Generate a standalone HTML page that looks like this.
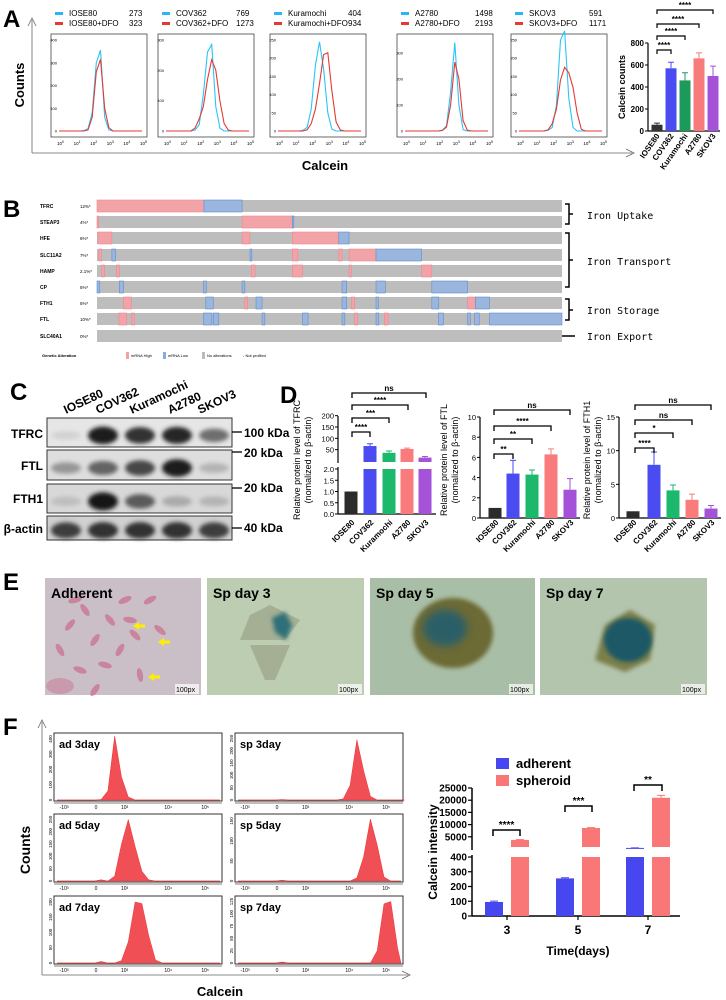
<!DOCTYPE html>
<html><head><meta charset="utf-8">
<style>
html,body{margin:0;padding:0;background:#fff;}
svg{display:block;font-family:"Liberation Sans",Arial,sans-serif;}
.b{font-weight:bold;}
</style></head>
<body>
<svg id="fig" width="726" height="1000" viewBox="0 0 726 1000" xmlns="http://www.w3.org/2000/svg">
<defs>
<filter id="blur2" x="-50%" y="-50%" width="200%" height="200%"><feGaussianBlur stdDeviation="2.2"/></filter>
<filter id="blur4" x="-50%" y="-50%" width="200%" height="200%"><feGaussianBlur stdDeviation="4"/></filter>
</defs>
<text x="3" y="27" font-size="24" class="b">A</text>
<text x="3" y="217" font-size="24" class="b">B</text>
<text x="10" y="400" font-size="24" class="b">C</text>
<text x="280" y="403" font-size="24" class="b">D</text>
<text x="3" y="590" font-size="24" class="b">E</text>
<text x="3" y="735" font-size="24" class="b">F</text>

<g stroke="#666" fill="none" stroke-width="0.8">
<path d="M32 153 L32 20 M28 26 L32 18 L36 26"/>
<path d="M32 153 L632 153 M626 149 L634 153 L626 157"/>
</g>
<text x="24" y="85" font-size="13" class="b" text-anchor="middle" transform="rotate(-90 24 85)">Counts</text>
<text x="325" y="170" font-size="13" class="b" text-anchor="middle">Calcein</text>
<g id="panelA"></g>
<g id="barA"></g>

<g id="panelB"></g>
<g stroke="#000" fill="none" stroke-width="1.5">
<path d="M565 204 L569 204 L569 224 L565 224 M569 214 L573 214"/>
<path d="M565 233 L569 233 L569 287 L565 287 M569 260 L573 260"/>
<path d="M565 299 L569 299 L569 320 L565 320 M569 310 L573 310"/>
<path d="M562 336 L575 336"/>
</g>
<g font-family="'DejaVu Sans Mono',monospace" font-size="10">
<text x="587" y="219">Iron Uptake</text>
<text x="587" y="265">Iron Transport</text>
<text x="587" y="314">Iron Storage</text>
<text x="587" y="340">Iron Export</text>
</g>
<g font-size="4">
<text x="42" y="357" class="b">Genetic Alteration</text>
<rect x="126" y="352" width="3" height="7" fill="#f4a0a0"/><text x="131" y="357">mRNA High</text>
<rect x="163" y="352" width="3" height="7" fill="#88aadd"/><text x="168" y="357">mRNA Low</text>
<rect x="202" y="352" width="3" height="7" fill="#bbb"/><text x="207" y="357">No alterations</text>
<text x="243" y="357">- Not profiled</text>
</g>

<g id="panelC"></g>
<g font-size="12" class="b">
<text transform="translate(66 414) rotate(-25)">IOSE80</text>
<text transform="translate(98 414) rotate(-25)">COV362</text>
<text transform="translate(132 414) rotate(-25)">Kuramochi</text>
<text transform="translate(170 414) rotate(-25)">A2780</text>
<text transform="translate(200 414) rotate(-25)">SKOV3</text>
<text x="43" y="438" text-anchor="end">TFRC</text>
<text x="43" y="470" text-anchor="end">FTL</text>
<text x="43" y="503" text-anchor="end">FTH1</text>
<text x="43" y="533" text-anchor="end">β-actin</text>
<text x="244" y="437">100 kDa</text>
<text x="244" y="457">20 kDa</text>
<text x="244" y="492">20 kDa</text>
<text x="244" y="532">40 kDa</text>
</g>
<g stroke="#000" stroke-width="1.3">
<line x1="232" y1="432" x2="242" y2="432"/><line x1="232" y1="452" x2="242" y2="452"/>
<line x1="232" y1="488" x2="242" y2="488"/><line x1="232" y1="528" x2="242" y2="528"/>
</g>

<g id="panelD"></g>
<g id="panelE"></g>

<g stroke="#666" fill="none" stroke-width="0.8">
<path d="M42 975 L42 722 M38 728 L42 720 L46 728"/>
<path d="M42 975 L408 975 M402 971 L410 975 L402 979"/>
</g>
<text x="30" y="850" font-size="14" class="b" text-anchor="middle" transform="rotate(-90 30 850)">Counts</text>
<text x="220" y="996" font-size="13" class="b" text-anchor="middle">Calcein</text>
<g id="panelF"></g>
<g id="barF"></g>
</svg>
<script>
const NS='http://www.w3.org/2000/svg';
function mk(parent,tag,attrs,name,txt){
  const e=document.createElementNS(NS,tag);
  for(const k in attrs)e.setAttribute(k,attrs[k]);
  
  
  if(txt!==undefined)e.textContent=txt;
  parent.appendChild(e);return e;
}
/* ===== Panel A data ===== */
const aLines=['IOSE80','COV362','Kuramochi','A2780','SKOV3'];
const aCtrlMFI=[273,769,404,1498,591];
const aDfoMFI=[323,1273,934,2193,1171];
const aYmax=[400,300,250,350,250];
const aYticks=[[0,100,200,300,400],[0,100,200,300],[0,50,100,150,200,250],[0,100,200,300],[0,50,100,150,200,250]];
const aBlue=[
[0,0,0,0,0,0,2,10,80,300,355,60,5,0,0,0,0,0,0,0,0],
[0,0,0,0,0,0,0,3,20,120,260,285,80,10,0,0,0,0,0,0,0],
[0,0,0,0,0,0,2,10,60,180,245,170,50,5,0,0,0,0,0,0,0],
[0,0,0,0,0,0,0,0,0,3,20,150,340,100,5,0,0,0,0,0,0],
[0,0,0,0,0,0,0,2,10,70,250,275,90,10,0,0,0,0,0,0,0]];
const aRed=[
[0,0,0,0,0,0,0,5,60,260,315,100,15,0,0,0,0,0,0,0,0],
[0,0,0,0,0,0,0,10,40,80,170,235,200,100,25,3,0,0,0,0,0],
[0,0,0,0,0,0,0,3,20,60,130,210,215,110,25,3,0,0,0,0,0],
[0,0,0,0,0,0,0,0,0,2,15,100,265,200,40,3,0,0,0,0,0],
[0,0,0,0,0,0,0,3,20,60,140,175,160,120,50,5,0,0,0,0,0]];
const aBoxLeft=[51,158,270,397,511];
const gA=document.getElementById('panelA');
aLines.forEach((n,i)=>{
  const L=aBoxLeft[i],W=96,T=34,B=137;
  mk(gA,'rect',{x:L+4,y:12,width:8,height:3,fill:'#29b6f6'},'legend-ctrl-swatch');
  mk(gA,'rect',{x:L+4,y:22,width:8,height:3,fill:'#e53935'},'legend-dfo-swatch');
  mk(gA,'text',{x:L+18,y:16,'font-size':8},'legend-ctrl-label',n);
  mk(gA,'text',{x:L+18,y:26,'font-size':8},'legend-dfo-label',n+'+DFO');
  mk(gA,'text',{x:L+78,y:16,'font-size':8},'legend-ctrl-mfi',aCtrlMFI[i]);
  mk(gA,'text',{x:L+78,y:26,'font-size':8},'legend-dfo-mfi',aDfoMFI[i]);
  mk(gA,'rect',{x:L,y:T,width:W,height:B-T,fill:'none',stroke:'#444','stroke-width':0.8},'histogram-frame-'+n);
  const px0=L+8,px1=L+W-5,py0=B-6,py1=T+6;
  const xs=d=>px0+(px1-px0)*d/5;
  const ys=v=>py0-(py0-py1)*v/aYmax[i];
  for(let d=0;d<=5;d++){
    const t=mk(gA,'text',{x:xs(d)-2,y:B+8,'font-size':4.5},'x-tick-'+d,'10');
    mk(t,'tspan',{dy:-2,'font-size':3.5},'tick-exp',d);
  }
  aYticks[i].forEach(v=>mk(gA,'text',{x:L+6,y:ys(v)+1.5,'font-size':4,'text-anchor':'end'},'y-tick',v));
  const pts=arr=>arr.map((v,k)=>xs(k*0.25).toFixed(1)+','+ys(v).toFixed(1)).join(' ');
  mk(gA,'polyline',{points:pts(aBlue[i]),fill:'none',stroke:'#29c5f6','stroke-width':1.1},'histogram-ctrl-'+n);
  mk(gA,'polyline',{points:pts(aRed[i]),fill:'none',stroke:'#e53935','stroke-width':1.1},'histogram-dfo-'+n);
});
const aBarVals=[57,570,460,660,500];
const aBarErr=[15,55,70,50,90];
const aBarTicks=[0,200,400,600,800];
const aBarColors=['#333','#4b4bf2','#1b9a5c','#f77b7b','#a453d8'];
const gAB=document.getElementById('barA');
(function(){
  const x0=648,y0=131,yT=43,ymax=800;
  const ys=v=>y0-(y0-yT)*v/ymax;
  mk(gAB,'line',{x1:x0,y1:yT,x2:x0,y2:y0,stroke:'#000','stroke-width':1.2},'a-bar-y-axis');
  mk(gAB,'line',{x1:x0,y1:y0,x2:720,y2:y0,stroke:'#000','stroke-width':1.2},'a-bar-x-axis');
  aBarTicks.forEach(v=>{
    mk(gAB,'line',{x1:x0-3,y1:ys(v),x2:x0,y2:ys(v),stroke:'#000'},'a-bar-ytick');
    mk(gAB,'text',{x:x0-4,y:ys(v)+3,'font-size':8,'text-anchor':'end',class:'b'},'a-bar-ytick-label',v);
  });
  mk(gAB,'text',{x:625,y:87,'font-size':9,'text-anchor':'middle',class:'b',transform:'rotate(-90 625 87)'},'a-bar-y-title','Calcein counts');
  aLines.forEach((n,i)=>{
    const cx=657+i*14;
    mk(gAB,'rect',{x:cx-5.5,y:ys(aBarVals[i]),width:11,height:y0-ys(aBarVals[i]),fill:aBarColors[i]},'a-bar-'+n);
    mk(gAB,'path',{d:`M${cx} ${ys(aBarVals[i])} V${ys(aBarVals[i]+aBarErr[i])} M${cx-3} ${ys(aBarVals[i]+aBarErr[i])} h6`,stroke:aBarColors[i],'stroke-width':1,fill:'none'},'a-error-bar');
    mk(gAB,'text',{'font-size':8,class:'b','text-anchor':'end',transform:`translate(${cx+3} ${y0+5}) rotate(-55)`},'a-bar-xlabel',n);
  });
  const br=[[671,50,'****'],[685,36,'****'],[699,24,'****'],[713,10,'****']];
  br.forEach(b=>{
    mk(gAB,'path',{d:`M657 ${b[1]+4} V${b[1]} H${b[0]} V${b[1]+4}`,fill:'none',stroke:'#000','stroke-width':1.2},'a-sig-bracket');
    mk(gAB,'text',{x:(657+b[0])/2,y:b[1]-2,'font-size':8,'text-anchor':'middle',class:'b'},'a-sig-label',b[2]);
  });
})();
/* ===== Panel B ===== */
const bGenes=['TFRC','STEAP3','HFE','SLC11A2','HAMP','CP','FTH1','FTL','SLC40A1'];
const bPct=['12%*','4%*','6%*','7%*','2.1%*','5%*','5%*','10%*','0%*'];
const bSegs=[
[[0,230,'h'],[230,312,'l']],
[[0,3,'h'],[312,420,'h'],[420,423,'l']],
[[2,32,'h'],[312,329,'h'],[420,520,'h'],[520,542,'l']],
[[4,10,'h'],[32,40,'l'],[329,333,'l'],[420,432,'h'],[520,527,'h'],[542,600,'h'],[600,698,'l']],
[[10,16,'h'],[42,48,'h'],[332,340,'h'],[420,442,'h'],[542,547,'h'],[698,720,'h']],
[[0,6,'l'],[48,57,'l'],[229,235,'l'],[312,318,'l'],[527,537,'l'],[600,620,'l'],[720,797,'l']],
[[57,74,'h'],[234,250,'l'],[318,324,'h'],[342,355,'l'],[527,537,'l'],[547,554,'h'],[600,605,'l'],[720,735,'l'],[797,814,'h'],[814,844,'l']],
[[47,64,'h'],[74,80,'h'],[229,247,'l'],[250,262,'l'],[355,361,'l'],[442,454,'l'],[527,533,'l'],[554,560,'h'],[600,606,'l'],[618,626,'h'],[734,745,'l'],[797,803,'l'],[812,822,'l'],[844,1000,'l']],
[]];
const bRowY=[206,222,238,255,271,287,303,319,336];
const gB=document.getElementById('panelB');
bGenes.forEach((g,i)=>{
  const y=bRowY[i],x0=97,x1=562,sx=v=>x0+(x1-x0)*v/1000;
  mk(gB,'text',{x:40,y:y+2,'font-size':5,class:'b'},'gene-label-'+g,g);
  mk(gB,'text',{x:80,y:y+2,'font-size':4.5},'gene-pct-'+g,bPct[i]);
  mk(gB,'rect',{x:x0,y:y-6,width:x1-x0,height:12,fill:'#bdbdbd'},'oncoprint-row-'+g);
  bSegs[i].forEach(s=>{
    mk(gB,'rect',{x:sx(s[0]),y:y-6,width:Math.max(sx(s[1])-sx(s[0]),1.5),height:12,fill:s[2]==='h'?'#f2a3a8':'#9bb6de',stroke:s[2]==='h'?'#ee8890':'#5d8fd0','stroke-width':0.6},'alteration-'+(s[2]==='h'?'mrna-high':'mrna-low'));
  });
});
/* ===== Panel C ===== */
const blotRows=['TFRC','FTL','FTH1','beta-actin'];
const blotTop=[418,450,484,516];
const blotH=[29,30,29,24];
const blotBg=['#e6e6e6','#dedede','#d8d8d8','#d0d0d0'];
const blotInt=[[0.05,0.95,0.85,0.9,0.55],[0.35,0.6,0.75,0.95,0.2],[0.15,1.0,0.65,0.25,0.2],[0.8,0.85,0.85,0.85,0.8]];
const gC=document.getElementById('panelC');
blotRows.forEach((r,i)=>{
  mk(gC,'rect',{x:47,y:blotTop[i],width:185,height:blotH[i],fill:blotBg[i],stroke:'#333','stroke-width':1},'blot-'+r);
  blotInt[i].forEach((v,k)=>{
    const cx=66+k*37,cy=blotTop[i]+blotH[i]*0.6;
    const c=Math.round(220-200*v);
    mk(gC,'ellipse',{cx:cx,cy:cy,rx:15,ry:4+5*v,fill:`rgb(${c},${c},${c})`,filter:'url(#blur2)'},'band-'+r+'-lane'+k);
  });
});
/* ===== Panel D ===== */
const dCats=['IOSE80','COV362','Kuramochi','A2780','SKOV3'];
const dTFRC=[1,66,36,53,15];
const dTFRCerr=[0,10,8,4,5];
const dFTL=[1,4.4,4.3,6.3,2.8];
const dFTLerr=[0,1.3,0.45,0.55,1.1];
const dFTH1=[1,7.9,4.1,2.7,1.4];
const dFTH1err=[0,1.9,0.8,0.85,0.45];
const dFTLticks=[0,2,4,6,8,10];
const dFTH1ticks=[0,5,10,15];
const dTFRClow=['0.0','0.5','1.0','1.5','2.0'];
const dTFRChigh=[50,100,150,200];
const gD=document.getElementById('panelD');
function dBrk(arr){arr.forEach(b=>{
  mk(gD,'path',{d:`M${b[0]} ${b[2]+5} V${b[2]} H${b[1]} V${b[2]+5}`,fill:'none',stroke:'#000','stroke-width':1.3},'d-sig-bracket');
  mk(gD,'text',{x:(b[0]+b[1])/2,y:b[2]-2,'font-size':8,'text-anchor':'middle',class:'b'},'d-sig-label',b[3]);
});}
function dTitles(x,gene){
  mk(gD,'text',{'font-size':9,'text-anchor':'middle',transform:`translate(${x} 460) rotate(-90)`},'d-y-title-'+gene,'Relative protein level of '+gene);
  mk(gD,'text',{'font-size':9,'text-anchor':'middle',transform:`translate(${x+11} 460) rotate(-90)`},'d-y-subtitle-'+gene,'(nomalized to β-actin)');
}
function dXlabels(bx){dCats.forEach((c,i)=>{
  mk(gD,'text',{'font-size':8,class:'b','text-anchor':'end',transform:`translate(${bx[i]+4} ${523}) rotate(-45)`},'d-xlabel',c);
});}
const dColors=['#2b2b2b','#4b4bf2','#1cb86b','#f97b7b','#a452d8'];
(function(){
  const ax=338,yb=514;
  const yL=v=>yb-v*22.5, yU=v=>461-v*0.2267;
  mk(gD,'path',{d:`M${ax} ${yb} V467 M${ax} 463 V416`,stroke:'#000','stroke-width':1.2,fill:'none'},'d1-y-axis');
  mk(gD,'line',{x1:ax,y1:yb,x2:436,y2:yb,stroke:'#000','stroke-width':1.2},'d1-x-axis');
  dTFRClow.forEach(t=>{const y=yL(+t);
    mk(gD,'line',{x1:ax-3,y1:y,x2:ax,y2:y,stroke:'#000'},'d1-ytick');
    mk(gD,'text',{x:ax-4,y:y+3,'font-size':7.5,'text-anchor':'end'},'d1-ytick-label',t);});
  dTFRChigh.forEach(t=>{const y=yU(t);
    mk(gD,'line',{x1:ax-3,y1:y,x2:ax,y2:y,stroke:'#000'},'d1-ytick');
    mk(gD,'text',{x:ax-4,y:y+3,'font-size':7.5,'text-anchor':'end'},'d1-ytick-label',t);});
  const bx=[351,370,389,407,425];
  dTFRC.forEach((v,i)=>{
    mk(gD,'rect',{x:bx[i]-6.5,y:v>2?469:yL(v),width:13,height:yb-(v>2?469:yL(v)),fill:dColors[i]},'d1-bar-'+dCats[i]);
    if(v>2){
      mk(gD,'rect',{x:bx[i]-6.5,y:yU(v),width:13,height:462-yU(v),fill:dColors[i]},'d1-bar-upper-'+dCats[i]);
      mk(gD,'path',{d:`M${bx[i]} ${yU(v)} V${yU(v+dTFRCerr[i])} M${bx[i]-3} ${yU(v+dTFRCerr[i])} h6`,stroke:dColors[i],fill:'none'},'d1-error-bar');
    }
  });
  dTitles(300,'TFRC');dXlabels(bx);
  dBrk([[352,426,393,'ns'],[352,408,405,'****'],[352,389,418,'***'],[352,370,432,'****']]);
})();
function dChart(ax,ticks,ymax,vals,errs,bx,gene,tx,br){
  const yb=518,yt=417,ys=v=>yb-(yb-yt)*v/ymax;
  mk(gD,'line',{x1:ax,y1:yb,x2:ax,y2:yt,stroke:'#000','stroke-width':1.2},'d-y-axis-'+gene);
  mk(gD,'line',{x1:ax,y1:yb,x2:bx[4]+10,y2:yb,stroke:'#000','stroke-width':1.2},'d-x-axis-'+gene);
  ticks.forEach(t=>{
    mk(gD,'line',{x1:ax-3,y1:ys(t),x2:ax,y2:ys(t),stroke:'#000'},'d-ytick');
    mk(gD,'text',{x:ax-4,y:ys(t)+3,'font-size':7.5,'text-anchor':'end'},'d-ytick-label',t);
  });
  vals.forEach((v,i)=>{
    mk(gD,'rect',{x:bx[i]-6.5,y:ys(v),width:13,height:yb-ys(v),fill:dColors[i]},'d-bar-'+gene+'-'+dCats[i]);
    if(errs[i]>0)mk(gD,'path',{d:`M${bx[i]} ${ys(v)} V${ys(v+errs[i])} M${bx[i]-3} ${ys(v+errs[i])} h6`,stroke:dColors[i],fill:'none'},'d-error-bar');
  });
  dTitles(tx,gene);dXlabels(bx);dBrk(br);
}
dChart(480,dFTLticks,10,dFTL,dFTLerr,[495,513,532,551,570],'FTL',447,
  [[494,570,410,'ns'],[494,551,426,'****'],[494,532,439,'**'],[494,513,454,'**']]);
dChart(619,dFTH1ticks,15,dFTH1,dFTH1err,[633,654,673,692,711],'FTH1',590,
  [[635,711,405,'ns'],[635,692,420,'ns'],[635,673,433,'*'],[635,654,448,'****']]);
/* ===== Panel E ===== */
const gE=document.getElementById('panelE');
const eImgs=[['Adherent',45,201,'#cbbfc7'],['Sp day 3',207,364,'#bccdb2'],['Sp day 5',370,535,'#a9bea6'],['Sp day 7',540,707,'#b3c5ad']];
eImgs.forEach((m,i)=>{
  mk(gE,'rect',{x:m[1],y:578,width:m[2]-m[1],height:117,fill:m[3]},'micrograph-'+i);
});
const cellPos=[[70,625],[85,610],[95,640],[110,620],[120,650],[105,665],[80,670],[135,635],[150,600],[125,600],[60,650],[140,675],[95,690],[160,630],[75,600],[130,620]];
cellPos.forEach(p=>mk(gE,'ellipse',{cx:p[0],cy:p[1],rx:7,ry:3,fill:'#c9708f',opacity:0.75,transform:`rotate(${(p[0]*7)%180} ${p[0]} ${p[1]})`},'adherent-cell'));
mk(gE,'ellipse',{cx:60,cy:686,rx:14,ry:8,fill:'#c78aa0',opacity:0.7},'adherent-cell-cluster');
[[133,626],[158,642],[148,677]].forEach(p=>mk(gE,'path',{d:`M${p[0]} ${p[1]} l6 -4 v2.5 h6 v3 h-6 v2.5z`,fill:'#ffee00'},'yellow-arrow'));
mk(gE,'path',{d:'M240 640 L285 640 L300 620 L270 605 L250 615 Z M250 645 L290 645 L275 680 L265 680Z',fill:'#9ea88c',opacity:0.8},'spheroid-day3');
mk(gE,'path',{d:'M272 618 L285 612 L292 625 L286 640 L275 632Z',fill:'#2f6f78',filter:'url(#blur2)'},'iron-stain-day3');
mk(gE,'ellipse',{cx:453,cy:633,rx:40,ry:35,fill:'#6c6a36',filter:'url(#blur2)'},'spheroid-day5');
mk(gE,'ellipse',{cx:445,cy:628,rx:22,ry:18,fill:'#2b5f67',filter:'url(#blur4)'},'iron-stain-day5');
mk(gE,'path',{d:'M595 660 L605 625 L630 610 L655 625 L650 660 L625 672Z',fill:'#7c7f4a',filter:'url(#blur2)'},'spheroid-day7');
mk(gE,'ellipse',{cx:628,cy:640,rx:24,ry:22,fill:'#1d5866',filter:'url(#blur2)'},'iron-stain-day7');
eImgs.forEach((m,i)=>{
  mk(gE,'text',{x:m[1]+6,y:598,'font-size':14,class:'b'},'micrograph-label',m[0]);
  mk(gE,'rect',{x:m[2]-26,y:684,width:24,height:10,fill:'#fff',opacity:0.7},'scale-bar-bg');
  mk(gE,'text',{x:m[2]-25,y:692,'font-size':7},'scale-bar-label','100px');
});
/* ===== Panel F ===== */
const fNames=['ad 3day','sp 3day','ad 5day','sp 5day','ad 7day','sp 7day'];
const fYticks=[[0,100,200,300,400],[0,50,100,150,200,250],[0,50,100,150,200,250],[0,50,100,150],[0,50,100,150,200],[0,25,50,75,100,125]];
const fYmax=[420,260,260,160,210,130];
const fCounts=[
[0,0,0,0,0,0,3,60,420,150,20,0,0,0,0,0,0,0,0,0,0,0,0,0],
[0,0,0,0,0,0,2,0,0,0,0,0,0,0,0,5,60,245,120,15,0,0,0,0,0],
[0,0,0,0,0,0,5,0,20,150,250,140,40,5,0,0,0,0,0,0,0,0,0,0],
[0,0,0,0,0,0,2,0,0,0,0,0,0,0,0,0,0,8,60,155,90,10,0,0],
[0,0,0,0,0,0,5,0,0,8,70,200,195,90,10,0,0,0,0,0,0,0,0,0],
[0,0,0,0,0,0,2,0,0,0,0,0,0,0,0,0,0,0,0,0,25,120,125,30]];
const fXtickLab=['-10³','0','10³','10⁴','10⁵'];
const fXtickPos=[0.06,0.25,0.42,0.68,0.9];
const gF=document.getElementById('panelF');
const fRowTop=[733,814,896],fColLeft=[54,235];
fNames.forEach((n,i)=>{
  const L=fColLeft[i%2],T=fRowTop[Math.floor(i/2)],W=168,H=68;
  mk(gF,'rect',{x:L,y:T,width:W,height:H,fill:'none',stroke:'#333','stroke-width':1},'f-hist-frame-'+n);
  const x0=L+3,x1=L+W-2,yb=T+H-1;
  const xs=k=>x0+(x1-x0)*(k+0.5)/24, ys=v=>yb-(H-4)*v/fYmax[i];
  let d=`M${x0} ${yb}`;
  fCounts[i].forEach((v,k)=>{d+=` L${xs(k).toFixed(1)} ${ys(v).toFixed(1)}`;});
  d+=` L${x1} ${yb} Z`;
  mk(gF,'path',{d:d,fill:'#f04f55',stroke:'#e33','stroke-width':0.5},'f-histogram-'+n);
  mk(gF,'text',{x:L+5,y:T+15,'font-size':11,class:'b'},'f-hist-label',n);
  fXtickLab.forEach((t,k)=>mk(gF,'text',{x:L+W*fXtickPos[k],y:T+H+8,'font-size':5,'text-anchor':'middle'},'f-xtick',t));
  mk(gF,'line',{x1:L,y1:T+H+2,x2:L+W,y2:T+H+2,stroke:'#000','stroke-width':0.6},'f-x-axis');
  fYticks[i].forEach(v=>mk(gF,'text',{'font-size':4.5,'text-anchor':'middle',transform:`translate(${L-2} ${ys(v)}) rotate(-90)`},'f-ytick',v));
});
const fDays=['3','5','7'];
const fAdh=[95,255,450];
const fAdhErr=[6,4,10];
const fSph=[3700,8600,21000];
const fSphErr=[150,150,1000];
const fLowTicks=[0,100,200,300,400];
const fHighTicks=[5000,10000,15000,20000,25000];
const gFB=document.getElementById('barF');
(function(){
  const ax=472,yb=916,yLt=857;
  const yL=v=>yb-(yb-yLt)*v/400, yU=v=>849-v*0.00244;
  mk(gFB,'path',{d:`M${ax} ${yb} V855 M${ax} 850 V788`,stroke:'#000','stroke-width':1.5,fill:'none'},'f-bar-y-axis');
  mk(gFB,'line',{x1:ax,y1:yb,x2:680,y2:yb,stroke:'#000','stroke-width':1.5},'f-bar-x-axis');
  fLowTicks.forEach(t=>{mk(gFB,'line',{x1:ax-4,y1:yL(t),x2:ax,y2:yL(t),stroke:'#000','stroke-width':1.2},'f-bar-ytick');
    mk(gFB,'text',{x:ax-5,y:yL(t)+3.5,'font-size':10,'text-anchor':'end',class:'b'},'f-bar-ytick-label',t);});
  fHighTicks.forEach(t=>{mk(gFB,'line',{x1:ax-4,y1:yU(t),x2:ax,y2:yU(t),stroke:'#000','stroke-width':1.2},'f-bar-ytick');
    mk(gFB,'text',{x:ax-5,y:yU(t)+3.5,'font-size':10,'text-anchor':'end',class:'b'},'f-bar-ytick-label',t);});
  mk(gFB,'text',{'font-size':12,class:'b','text-anchor':'middle',transform:'translate(437 852) rotate(-90)'},'f-bar-y-title','Calcein intensity');
  mk(gFB,'text',{x:578,y:955,'font-size':12,class:'b','text-anchor':'middle'},'f-bar-x-title','Time(days)');
  const cx=[507,578,648];
  function seg(x,v,err,col,nm){
    mk(gFB,'rect',{x:x-9,y:v>400?yLt:yL(v),width:18,height:yb-(v>400?yLt:yL(v)),fill:col},nm);
    if(v>400){
      mk(gFB,'rect',{x:x-9,y:yU(v),width:18,height:Math.max(847-yU(v),1),fill:col},nm+'-upper');
      mk(gFB,'path',{d:`M${x} ${yU(v)} V${yU(v+err)} M${x-4} ${yU(v+err)} h8`,stroke:col,fill:'none'},'f-error-bar');
    } else mk(gFB,'path',{d:`M${x} ${yL(v)} V${yL(v+err)} M${x-4} ${yL(v+err)} h8`,stroke:col,fill:'none'},'f-error-bar');
  }
  fDays.forEach((d,i)=>{
    seg(cx[i]-13,fAdh[i],fAdhErr[i],'#4747f0','f-bar-adherent-day'+d);
    seg(cx[i]+13,fSph[i],fSphErr[i],'#f97777','f-bar-spheroid-day'+d);
    mk(gFB,'line',{x1:cx[i],y1:yb,x2:cx[i],y2:yb+4,stroke:'#000','stroke-width':1.2},'f-bar-xtick');
    mk(gFB,'text',{x:cx[i],y:934,'font-size':12,class:'b','text-anchor':'middle'},'f-bar-xtick-label',d);
  });
  [[493,520,830,'****'],[565,592,806,'***'],[634,662,785,'**']].forEach(b=>{
    mk(gFB,'path',{d:`M${b[0]} ${b[2]+6} V${b[2]} H${b[1]} V${b[2]+6}`,fill:'none',stroke:'#000','stroke-width':1.5},'f-sig-bracket');
    mk(gFB,'text',{x:(b[0]+b[1])/2,y:b[2]-2,'font-size':10,class:'b','text-anchor':'middle'},'f-sig-label',b[3]);
  });
  mk(gFB,'rect',{x:496,y:758,width:13,height:11,fill:'#4747f0'},'legend-adherent-swatch');
  mk(gFB,'text',{x:516,y:768,'font-size':13,class:'b'},'legend-adherent-label','adherent');
  mk(gFB,'rect',{x:496,y:775,width:13,height:11,fill:'#f97777'},'legend-spheroid-swatch');
  mk(gFB,'text',{x:516,y:785,'font-size':13,class:'b'},'legend-spheroid-label','spheroid');
})();
</script>
</body></html>
